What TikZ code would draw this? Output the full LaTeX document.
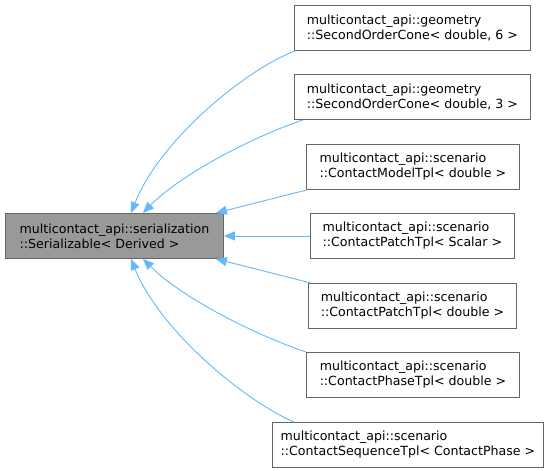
\documentclass[tikz,border=0pt]{standalone}
\usepackage{fontspec}
\setmainfont{DejaVu Sans}
\usetikzlibrary{arrows.meta}
\definecolor{edgeblue}{HTML}{63B8FF}
\definecolor{boxgray}{HTML}{666666}
\definecolor{basegray}{HTML}{999999}
\tikzset{
	cls/.style={draw=boxgray,fill=white,line width=0.9pt,anchor=north west,minimum height=45pt,inner sep=0pt,align=left,font=\fontsize{12.6}{15}\selectfont},
	basecls/.style={cls,fill=basegray},
	inherit/.style={draw=edgeblue,line width=0.9pt,-{Triangle[length=11pt,width=9pt]}}
}
\begin{document}
\begin{tikzpicture}[x=1pt,y=-1pt]
	\useasboundingbox (0,0) rectangle (558,471);
	\node[basecls,minimum width=218pt] (base) at (5,213) {multicontact\_api::serialization\\::Serializable< Derived >};
	\node[cls,minimum width=236pt] (cone6) at (294,5) {multicontact\_api::geometry\\::SecondOrderCone< double, 6 >};
	\node[cls,minimum width=236pt] (cone3) at (294,74) {multicontact\_api::geometry\\::SecondOrderCone< double, 3 >};
	\node[cls,minimum width=213pt] (model) at (306,144) {multicontact\_api::scenario\\::ContactModelTpl< double >};
	\node[cls,minimum width=204pt] (patchs) at (310,213) {multicontact\_api::scenario\\::ContactPatchTpl< Scalar >};
	\node[cls,minimum width=208pt] (patchd) at (308,283) {multicontact\_api::scenario\\::ContactPatchTpl< double >};
	\node[cls,minimum width=213pt] (phase) at (306,352) {multicontact\_api::scenario\\::ContactPhaseTpl< double >};
	\node[cls,minimum width=271pt] (seq) at (272,422) {multicontact\_api::scenario\\::ContactSequenceTpl< ContactPhase >};
	\draw[inherit] ([xshift=1pt]cone6.south west) .. controls (245,70) and (160,140) .. ([xshift=126pt]base.north west);
	\draw[inherit] ([xshift=9pt]cone3.south west) .. controls (250,138) and (180,175) .. ([xshift=138pt]base.north west);
	\draw[inherit] ([xshift=1pt]model.south west) -- ([xshift=-8pt]base.north east);
	\draw[inherit] (patchs.west) -- (base.east);
	\draw[inherit] ([xshift=3pt]patchd.north west) -- ([xshift=-8pt]base.south east);
	\draw[inherit] (phase.north west) .. controls (250,333) and (180,296) .. ([xshift=138pt]base.south west);
	\draw[inherit] ([xshift=22pt]seq.north west) .. controls (245,401) and (160,331) .. ([xshift=126pt]base.south west);
\end{tikzpicture}
\end{document}
